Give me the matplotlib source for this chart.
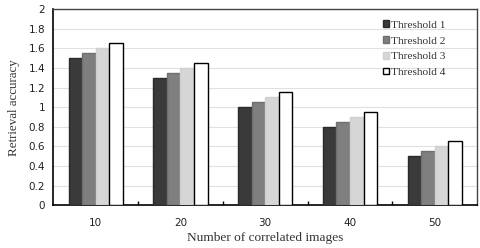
import matplotlib.pyplot as plt
import numpy as np

categories = ['10', '20', '30', '40', '50']
series_names = ['Threshold 1', 'Threshold 2', 'Threshold 3', 'Threshold 4']
threshold1 = [1.5, 1.3, 1.0, 0.8, 0.5]
threshold2 = [1.55, 1.35, 1.05, 0.85, 0.55]
threshold3 = [1.6, 1.4, 1.1, 0.9, 0.6]
threshold4 = [1.65, 1.45, 1.15, 0.95, 0.65]


def main():
    fig = plt.figure(figsize=(4.8, 2.48), dpi=100)
    ax = fig.add_axes([0.111, 0.173, 0.883, 0.79])

    x = np.arange(len(categories))
    w = 0.16
    colors = ['#3a3a3a', '#7f7f7f', '#d6d6d6', 'white']
    edges = ['#2a2a2a', '#6f6f6f', '#d0d0d0', 'black']
    data = [threshold1, threshold2, threshold3, threshold4]
    for i, vals in enumerate(data):
        ax.bar(x + (i - 1.5) * w, vals, w, color=colors[i],
               edgecolor=edges[i], linewidth=1.0, label=series_names[i],
               zorder=3)

    ax.set_xlim(-0.5, len(categories) - 0.5)
    ax.set_ylim(0, 2)
    ax.set_yticks(np.arange(0, 2.01, 0.2))
    ax.set_yticklabels(['0', '0.2', '0.4', '0.6', '0.8', '1', '1.2', '1.4',
                        '1.6', '1.8', '2'])
    ax.set_xticks(x)
    ax.set_xticklabels(categories)
    ax.set_xticks(np.arange(0.5, len(categories) - 0.5, 1), minor=True)
    ax.tick_params(axis='x', which='major', length=0, pad=9,
                   labelsize=7.5, labelcolor='#222222')
    ax.tick_params(axis='x', which='minor', direction='in', length=3,
                   width=1)
    ax.tick_params(axis='y', length=0, labelsize=7.5, pad=6,
                   labelcolor='#222222')
    ax.grid(axis='y', color='#e0e0e0', linewidth=0.8, zorder=0)
    for s in ['left', 'bottom']:
        ax.spines[s].set_linewidth(1.2)
        ax.spines[s].set_color('black')
    for s in ['top', 'right']:
        ax.spines[s].set_linewidth(1.0)
        ax.spines[s].set_color('#444444')

    ax.set_xlabel('Number of correlated images', family='Liberation Serif',
                  fontsize=9.6, color='#333333', labelpad=3)
    ax.set_ylabel('Retrieval accuracy', family='Liberation Serif',
                  fontsize=9.4, color='#333333', labelpad=6)

    leg = ax.legend(loc='upper right', bbox_to_anchor=(0.95, 0.995),
                    frameon=False, handlelength=0.55, handleheight=0.55,
                    handletextpad=0.2, labelspacing=0.55,
                    prop={'family': 'Liberation Serif', 'size': 8.2})
    for t in leg.get_texts():
        t.set_color('#333333')

    fig.savefig('out.png', dpi=100)


if __name__ == "__main__":
    main()
